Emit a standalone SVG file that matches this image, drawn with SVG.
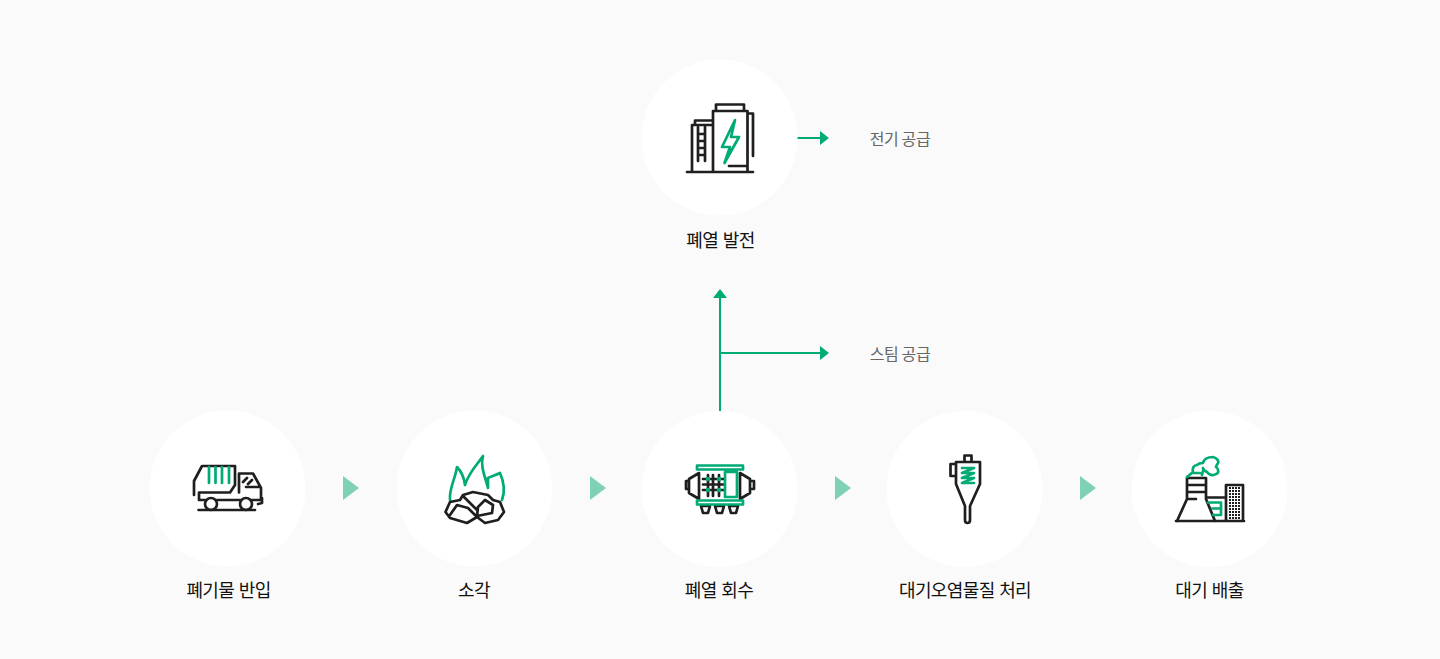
<svg xmlns="http://www.w3.org/2000/svg" width="1440" height="659" viewBox="0 0 1440 659">
<defs>
<style>
.c{fill:#fff}
.k{fill:none;stroke:#1f1f1f;stroke-width:2.7;stroke-linejoin:round;stroke-linecap:round}
.g{fill:none;stroke:#00ab75;stroke-width:2.7;stroke-linejoin:round;stroke-linecap:round}
.t{font-family:"Noto Sans CJK KR","Noto Sans",sans-serif;font-size:18px;letter-spacing:-.6px;word-spacing:1px;fill:#111;text-anchor:middle}
.s{font-family:"Noto Sans CJK KR","Noto Sans",sans-serif;font-size:16px;letter-spacing:-.4px;fill:#666;text-anchor:middle}
.l{fill:none;stroke:#00ab75;stroke-width:2}
.h{fill:#00ab75}
.a{fill:#7fd1b5}
</style>
</defs>
<rect width="1440" height="659" fill="#fafafa"/>
<g id="connectors">
<path class="l" d="M797 138H821M720 412V298M720 353H821"/>
<path class="h" d="M820 131l9 7-9 7zM820 346l9 7-9 7zM713 298l7-9 7 9z"/>
<path class="a" d="M343 476l16 12-16 12zM590 476l16 12-16 12zM835 476l16 12-16 12zM1080 476l16 12-16 12z"/>
</g>
<g id="node-power">
<circle class="c" cx="719.500" cy="137.500" r="78"/>
<path class="k" d="M687 172H753M713 172V111H747.500V172M716 110V104.500H744V110M692 172V125H712M695 125V120.500H712M748 113.500H753V156M729 166H747M698 127V161M705 127V161M698 134H705M698 141H705M698 148H705M698 155H705"/>
<path class="g" d="M735 120L722 147H730L724.500 163L739 137H731Z"/>
<text class="t" x="720.500" y="247">폐열 발전</text>
</g>
<text class="s" x="900" y="145">전기 공급</text>
<text class="s" x="900" y="360">스팀 공급</text>
<g id="node-truck">
<circle class="c" cx="227.500" cy="488.500" r="78"/>
<path class="k" d="M194 495V481L202 466H235V485L230 492.500H199V500H205M217 500H240M252 500H261V488L253 473.500H239V492.500M246 487H260M243 482L247 478M248 484L252 480M261 498H262V503L258 504M198.500 510H255"/>
<circle class="k" cx="211" cy="504" r="6"/>
<circle class="k" cx="246" cy="504" r="6"/>
<path class="g" d="M209 467V483M215.500 467V483M222 467V483M229 467V483"/>
<text class="t" x="228.500" y="597">폐기물 반입</text>
</g>
<g id="node-fire">
<circle class="c" cx="474.500" cy="488.500" r="78"/>
<path class="g" d="M450 500C449 488 455 480 457 467C461 471 464 477 465 485C469 472 477 465 483 456C480 466 485 476 488 488C488 483 488 480 488 478C492 476 496 475 500 473C504 482 505 492 502 500"/>
<path class="k" d="M445.500 512L450 502L460 500L463 495L473 492L488 495L493 500L500 502L504 512L498 520L485 523L477 517L467 523L450 518ZM450 515L457 505L468 508L475 515M477 516L478 507L485 500L493 505L492 513ZM463 496L472 505L477 510"/>
<text class="t" x="474" y="597">소각</text>
</g>
<g id="node-recovery">
<circle class="c" cx="719.500" cy="489" r="78"/>
<path class="k" d="M699 473L689 479V493L699 499ZM740 473L750 479V493L740 499ZM689 481H686V489H689M750 481H754V489H750M701 506L703 513H708L710 506ZM715 506L717 513H722L724 506ZM729 506L731 513H736L738 506Z"/>
<path class="k" d="M708 475V496M713 475V496M719 475V496M703 479H724M703 484.500H724M703 490H724"/>
<path class="g" d="M697 465.500H743V469.500H697ZM697 500.500H743V504.500H697ZM725 472H737V497H725Z"/>
<circle class="h" cx="708" cy="479" r="2.300"/>
<circle class="h" cx="719" cy="479" r="2.300"/>
<circle class="h" cx="708" cy="490" r="2.300"/>
<circle class="h" cx="719" cy="490" r="2.300"/>
<text class="t" x="719" y="597">폐열 회수</text>
</g>
<g id="node-filter">
<circle class="c" cx="964.500" cy="489" r="78"/>
<path class="k" d="M956 462H980V484L970 506V520Q970 523 967.500 523Q965 523 965 520V506L956 484ZM964.500 462V455.500H971.500V462M956 464H950.500V476H956"/>
<path class="g" d="M962 468H974L962 473H974L962 478H974L962 483H974"/>
<text class="t" x="965" y="597">대기오염물질 처리</text>
</g>
<g id="node-stack">
<circle class="c" cx="1209.500" cy="489" r="78"/>
<path class="k" d="M1176 521H1244M1177 521L1187 499V478H1206V499L1215 521M1187 485H1206M1187 492H1206M1187 499H1196M1206 497.500H1226M1226 521V485H1243V521"/>
<path d="M1229 488H1241M1229 491H1241M1229 494H1241M1229 497H1241M1229 500H1241M1229 503H1241M1229 506H1241M1229 509H1241M1229 512H1241M1229 515H1241M1229 518H1241" fill="none" stroke="#1f1f1f" stroke-width="2" stroke-dasharray="2 1"/>
<path class="g" d="M1187 477L1193 472C1192 468 1194 465 1197 465C1199 463 1201 463 1203 463C1204 459 1207 457 1213 457C1217 458 1219 461 1218 463C1217 465 1216 466 1216 467C1219 469 1219 473 1216 474C1213 476 1209 475 1207 472C1205 471 1203 470 1203 468M1202 475L1203 471M1193 473H1200M1208 502.500H1221V515H1213M1212 508.500H1221"/>
<text class="t" x="1209.500" y="597">대기 배출</text>
</g>
</svg>
